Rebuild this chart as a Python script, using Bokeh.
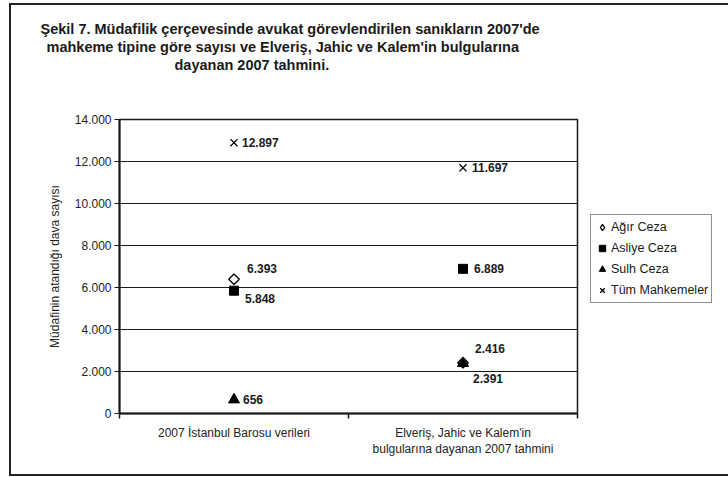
import math
from bokeh.plotting import figure
from bokeh.layouts import row
from bokeh.models import (ColumnDataSource, FixedTicker, Legend, LegendItem, Title, Range1d)
from bokeh.core.properties import value
from bokeh.embed import file_html
from bokeh.resources import INLINE

# ---- data ----
categories = ["2007 İstanbul Barosu verileri",
              "Elveriş, Jahic ve Kalem'in\nbulgularına dayanan 2007 tahmini"]
series_names = ["Ağır Ceza", "Asliye Ceza", "Sulh Ceza", "Tüm Mahkemeler"]
agir_ceza = [6393, 2416]
asliye_ceza = [5848, 6889]
sulh_ceza = [656, 2391]
tum_mahkemeler = [12897, 11697]
y_ticks = [0, 2000, 4000, 6000, 8000, 10000, 12000, 14000]
y_tick_labels = ["0", "2.000", "4.000", "6.000", "8.000", "10.000", "12.000", "14.000"]
title_lines = ["Şekil 7. Müdafilik çerçevesinde avukat görevlendirilen sanıkların 2007'de",
               "mahkeme tipine göre sayısı ve Elveriş, Jahic ve Kalem'in bulgularına",
               "dayanan 2007 tahmini."]
y_axis_title = "Müdafinin atandığı dava sayısı"

# label offsets in pixels (style), per series per category
label_offsets = {
    "Ağır Ceza": [(13, -11), (12, -14)],
    "Asliye Ceza": [(11, 8), (11, 0)],
    "Sulh Ceza": [(9, 0), (10, 15)],
    "Tüm Mahkemeler": [(8, 0), (9, 0)],
}
# title line left offsets relative to the plot frame (style)
title_offsets = [-79, -73, 55]

FONT = "Liberation Sans"
INK = "#1a1a1a"
BORDER = "2px solid #222"

def fmt(v):
    return f"{v:,}".replace(",", ".")

xpos = [i + 0.5 for i in range(len(categories))]

p = figure(width=580, height=473, x_range=Range1d(0, len(categories)),
           y_range=Range1d(0, 14000), output_backend="svg", toolbar_location=None,
           min_border_left=108, min_border_right=14, min_border_top=114,
           min_border_bottom=65)
p.styles = {"border-left": BORDER, "border-top": BORDER, "border-bottom": BORDER}
p.background_fill_color = "white"
p.border_fill_color = "white"
p.outline_line_color = INK
p.outline_line_width = 1.5

# axes
p.yaxis.ticker = FixedTicker(ticks=y_ticks)
p.yaxis.major_label_overrides = {t: l for t, l in zip(y_ticks, y_tick_labels)}
p.yaxis.minor_tick_line_color = None
p.yaxis.major_tick_out = 5
p.yaxis.major_tick_in = 0
p.yaxis.major_label_standoff = 3
p.yaxis.axis_line_width = 2
p.yaxis.axis_line_color = INK
p.yaxis.major_tick_line_color = INK
p.yaxis.major_label_text_font = FONT
p.yaxis.major_label_text_font_size = "12px"
p.yaxis.major_label_text_color = "#222222"
p.yaxis.axis_label = y_axis_title
p.yaxis.axis_label_text_font = FONT
p.yaxis.axis_label_text_font_size = "12px"
p.yaxis.axis_label_text_font_style = "normal"
p.yaxis.axis_label_text_color = "#222222"
p.yaxis.axis_label_standoff = 10

p.xaxis.ticker = FixedTicker(ticks=xpos, minor_ticks=list(range(len(categories) + 1)))
p.xaxis.major_label_overrides = {x: c for x, c in zip(xpos, categories)}
p.xaxis.major_tick_out = 0
p.xaxis.major_tick_in = 0
p.xaxis.minor_tick_out = 5
p.xaxis.minor_tick_in = 0
p.xaxis.minor_tick_line_color = INK
p.xaxis.minor_tick_line_width = 1.5
p.xaxis.major_label_standoff = 7
p.xaxis.axis_line_width = 2
p.xaxis.axis_line_color = INK
p.xaxis.major_label_text_font = FONT
p.xaxis.major_label_text_font_size = "12px"
p.xaxis.major_label_text_color = "#222222"

p.xgrid.grid_line_color = None
p.ygrid.ticker = FixedTicker(ticks=y_ticks)
p.ygrid.grid_line_color = INK
p.ygrid.grid_line_width = 1.2

# series
styles = {
    "Ağır Ceza": dict(marker="square", angle=math.pi / 4, size=7.5, fill_color="white",
                      line_color="black", line_width=1.3),
    "Asliye Ceza": dict(marker="square", size=9, fill_color="black", line_color="black"),
    "Sulh Ceza": dict(marker="triangle", size=11, fill_color="black", line_color="black"),
    "Tüm Mahkemeler": dict(marker="x", size=10, line_color="black", line_width=1.3),
}
legend_styles = dict(styles)
legend_styles["Ağır Ceza"] = dict(marker="diamond", size=10, fill_color="white",
                                  line_color="black", line_width=1.3)
values = {"Ağır Ceza": agir_ceza, "Asliye Ceza": asliye_ceza,
          "Sulh Ceza": sulh_ceza, "Tüm Mahkemeler": tum_mahkemeler}

# legend lives in a narrow side figure (so that it is not clipped by the plot frame)
lp = figure(width=139, height=473, output_backend="svg", toolbar_location=None,
            x_axis_type=None, y_axis_type=None, min_border=0,
            x_range=Range1d(0, 1), y_range=Range1d(0, 1))
lp.styles = {"border-top": BORDER, "border-bottom": BORDER}
lp.outline_line_color = None
lp.background_fill_color = "white"
lp.border_fill_color = "white"

items = []
for name in series_names:
    vals = values[name]
    offs = label_offsets[name]
    src = ColumnDataSource(dict(x=xpos, y=vals, label=[fmt(v) for v in vals],
                                dx=[o[0] for o in offs], dy=[o[1] for o in offs]))
    p.scatter(x="x", y="y", source=src, **styles[name])
    p.text(x="x", y="y", text="label", x_offset="dx", y_offset="dy", source=src,
           text_font=value(FONT), text_font_style="bold", text_font_size="12px",
           text_color=INK, text_align="left", text_baseline="middle")
    # legend swatch renderer: a point kept outside the legend panel's visible range
    lr = lp.scatter(x=[-5], y=[-5], **legend_styles[name])
    items.append(LegendItem(label=name, renderers=[lr]))

legend = Legend(items=items, location=(1, 110), margin=0, padding=3, spacing=3,
                glyph_width=16, glyph_height=18, label_height=18, label_standoff=1,
                label_text_font=FONT, label_text_font_size="12.5px", label_text_color=INK,
                border_line_color="#222222", border_line_width=1.2,
                background_fill_color="white", background_fill_alpha=1)
lp.add_layout(legend, "center")

# title: spacer then three lines stacked above the frame (added nearest-first)
p.add_layout(Title(text=" ", text_font_size="1px", standoff=44), "above")
for i, line in enumerate(reversed(title_lines)):
    off = list(reversed(title_offsets))[i]
    p.add_layout(Title(text=line, align="left", offset=off, standoff=0,
                       text_font=FONT, text_font_style="bold", text_font_size="14.5px",
                       text_color=INK), "above")

layout = row(p, lp, styles={"margin-left": "9px", "margin-top": "3px"})

open("out.html", "w").write(file_html(layout, INLINE))
